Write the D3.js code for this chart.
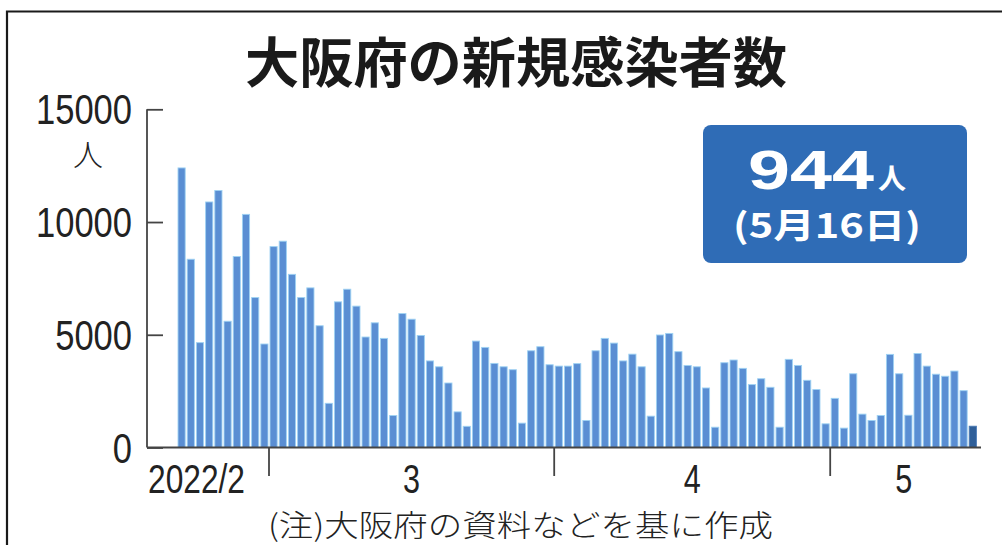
<!DOCTYPE html>
<html>
<head>
<meta charset="utf-8">
<script src="https://cdn.jsdelivr.net/npm/d3@7/dist/d3.min.js"></script>
<style>
  html, body { margin: 0; padding: 0; background: #fff; }
  svg { display: block; }
</style>
</head>
<body>
<svg id="chart" width="1002" height="545"></svg>
<script>
// ---- data ----
const startDate = new Date(2022, 1, 19);   // 2022-02-19
const endDate = new Date(2022, 4, 17);     // exclusive, last bar 2022-05-16
const cases = [
  12400, 8350, 4650, 10890, 11400, 5600, 8470, 10340, 6650, 4590,
  8910, 9150, 7680, 6650, 7080, 5400, 1960, 6460, 7020, 6270,
  4900, 5530, 4840, 1420, 5940, 5690, 4970, 3840, 3580, 2860,
  1580, 940, 4720, 4440, 3730, 3580, 3450, 1080, 4290, 4470, 3670,
  3610, 3610, 3720, 1200, 4290, 4840, 4630, 3840, 4140, 3580,
  1390, 4990, 5060, 4250, 3640, 3580, 2640, 900, 3760, 3880,
  3510, 2790, 3050, 2670, 900, 3910, 3640, 2980, 2570, 1050,
  2180, 860, 3270, 1480, 1200, 1420, 4130, 3270, 1430, 4170,
  3610, 3250, 3160, 3390, 2520, 944
];
const yTicks = [0, 5000, 10000, 15000];
const yTickLabels = ["0", "5000", "10000", "15000"];
const monthLabels = ["2022/2", "3", "4", "5"];
const titleText = "大阪府の新規感染者数";
const unitText = "人";
const calloutValue = "944";
const calloutUnit = "人";
const calloutDate = "(5月16日)";
const noteText = "(注)大阪府の資料などを基に作成";

// ---- build ----
const days = d3.timeDay.range(startDate, endDate);
const data = days.map((d, i) => ({ date: d, value: cases[i] }));

const svg = d3.select("#chart");
const latin = "'Liberation Sans', Arial, sans-serif";
const cjk = "'Noto Sans CJK JP', 'Noto Sans', sans-serif";

// frame
svg.append("path")
  .attr("d", "M7,545 L7,11.5 L1002,11.5")
  .attr("fill", "none").attr("stroke", "#1a1a1a").attr("stroke-width", 2.2);

const x = d3.scaleBand()
  .domain(days.map(d => +d))
  .range([177, 977.4])
  .paddingInner(0.22).paddingOuter(0.11);

const y = d3.scaleLinear().domain([0, 15000]).range([447.5, 109.3]);

// title
svg.append("text")
  .attr("x", 516).attr("y", 83)
  .attr("text-anchor", "middle")
  .attr("font-family", cjk).attr("font-weight", 700)
  .attr("font-size", 54).attr("fill", "#1a1a1a")
  .attr("textLength", 542).attr("lengthAdjust", "spacingAndGlyphs")
  .text(titleText);

// bars
svg.append("g").selectAll("rect")
  .data(data)
  .join("rect")
  .attr("x", d => x(+d.date))
  .attr("width", x.bandwidth())
  .attr("y", d => y(d.value))
  .attr("height", d => y(0) - y(d.value))
  .attr("fill", (d, i) => i === data.length - 1 ? "#2f5f99" : "#5a8ed3")
  .attr("stroke", (d, i) => i === data.length - 1 ? "#4a7ab5" : "#9fd2f3")
  .attr("stroke-width", 0.9);

// y axis
const yAxis = d3.axisRight(y).tickValues(yTicks).tickSize(16).tickFormat("");
const gy = svg.append("g").attr("transform", "translate(147,0)").call(yAxis);
gy.select(".domain").attr("stroke", "#444").attr("stroke-width", 1.8).attr("d", "M0," + y(15000) + "V" + y(0));
gy.selectAll(".tick line").attr("stroke", "#444").attr("stroke-width", 1.8);

svg.append("g").selectAll("text")
  .data(yTicks)
  .join("text")
  .attr("x", 132).attr("y", d => y(d) + 15)
  .attr("text-anchor", "end")
  .attr("font-family", latin).attr("font-size", 42).attr("fill", "#222")
  .attr("textLength", (d, i) => yTickLabels[i].length * 19.2)
  .attr("lengthAdjust", "spacingAndGlyphs")
  .text((d, i) => yTickLabels[i]);

svg.append("text")
  .attr("x", 88).attr("y", 166)
  .attr("text-anchor", "middle")
  .attr("font-family", cjk).attr("font-weight", 300)
  .attr("font-size", 30).attr("fill", "#222")
  .text(unitText);

// x axis
svg.append("line")
  .attr("x1", 147).attr("x2", 981)
  .attr("y1", y(0)).attr("y2", y(0))
  .attr("stroke", "#444").attr("stroke-width", 2);

const step = x.step();
const monthStarts = [new Date(2022, 2, 1), new Date(2022, 3, 1), new Date(2022, 4, 1)];
svg.append("g").selectAll("line")
  .data(monthStarts)
  .join("line")
  .attr("x1", d => x(+d) - step * x.paddingInner() / 2)
  .attr("x2", d => x(+d) - step * x.paddingInner() / 2)
  .attr("y1", y(0)).attr("y2", 476)
  .attr("stroke", "#444").attr("stroke-width", 1.8);

// month label positions: middle of the visible days of each month
const monthGroups = d3.groups(days, d => d.getMonth());
const monthCenters = monthGroups.map(([m, ds]) => {
  const a = x(+ds[0]) - step * x.paddingInner() / 2;
  const b = x(+ds[ds.length - 1]) + x.bandwidth() + step * x.paddingInner() / 2;
  return (a + b) / 2;
});
svg.append("g").selectAll("text")
  .data(monthLabels)
  .join("text")
  .attr("x", (d, i) => i === 0 ? 148 : monthCenters[i])
  .attr("y", 493)
  .attr("text-anchor", (d, i) => i === 0 ? "start" : "middle")
  .attr("font-family", latin).attr("font-size", 40).attr("fill", "#222")
  .attr("textLength", d => d.length === 1 ? 17 : 97)
  .attr("lengthAdjust", "spacingAndGlyphs")
  .text(d => d);

// footnote
svg.append("text")
  .attr("x", 268).attr("y", 536)
  .attr("font-family", cjk).attr("font-weight", 300)
  .attr("font-size", 30).attr("fill", "#222")
  .attr("textLength", 505).attr("lengthAdjust", "spacingAndGlyphs")
  .text(noteText);

// callout box
const box = svg.append("g");
box.append("rect")
  .attr("x", 703).attr("y", 125).attr("width", 264).attr("height", 138)
  .attr("rx", 8).attr("fill", "#2f6cb6");
box.append("text")
  .attr("x", 748).attr("y", 189)
  .attr("font-family", latin).attr("font-weight", 700)
  .attr("font-size", 56).attr("fill", "#fff")
  .attr("textLength", 126).attr("lengthAdjust", "spacingAndGlyphs")
  .text(calloutValue);
box.append("text")
  .attr("x", 878).attr("y", 189)
  .attr("font-family", cjk).attr("font-weight", 700)
  .attr("font-size", 28).attr("fill", "#fff")
  .text(calloutUnit);
box.append("text")
  .attr("x", 733).attr("y", 238)
  .attr("font-family", cjk).attr("font-weight", 700)
  .attr("font-size", 34).attr("fill", "#fff")
  .attr("textLength", 188).attr("lengthAdjust", "spacingAndGlyphs")
  .text(calloutDate);
</script>
</body>
</html>
